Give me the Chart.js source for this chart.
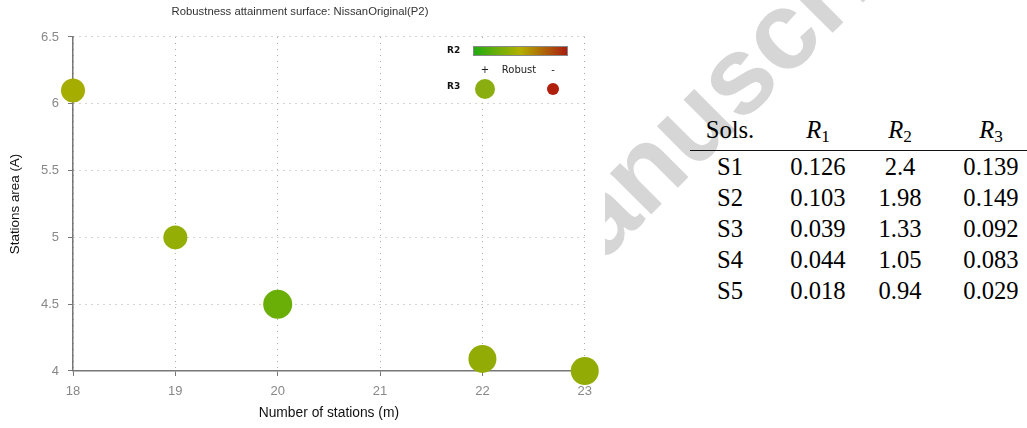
<!DOCTYPE html>
<html>
<head>
<meta charset="utf-8">
<script src="https://cdn.jsdelivr.net/npm/chart.js@4.4.1/dist/chart.umd.min.js"></script>
<style>
  html, body { margin: 0; padding: 0; background: #fff; overflow: hidden; }
  body { width: 1027px; height: 428px; position: relative; }
  #mark {
    position: absolute; left: 472px; top: 262px;
    transform-origin: 0 0; transform: rotate(-45deg);
    font: bold 110px "Liberation Sans", Arial, sans-serif; line-height: 1;
    color: #d6d6d6; white-space: nowrap; z-index: 0;
  }
  #plot { position: absolute; left: 0; top: 0; width: 605px; height: 428px; background: #fff; z-index: 1; }
  #plot canvas { position: absolute; left: 0; top: 0; }
  #tblWrap { position: absolute; left: 690px; top: 114px; width: 337px; overflow: hidden; z-index: 2; }
  table { border-collapse: collapse; font: 24.6px "Liberation Serif", serif; color: #000; table-layout: fixed; width: 358px; }
  td, th { padding: 0; text-align: center; font-weight: normal; white-space: nowrap; }
  thead th { line-height: 32px; padding-bottom: 4px; border-bottom: 1.2px solid #111; }
  tbody td { line-height: 31px; }
  sub { font-size: 0.7em; font-style: normal; vertical-align: -0.25em; line-height: 0; }
</style>
</head>
<body>
<div id="mark">Manuscript</div>
<div id="plot"><canvas id="chart" width="600" height="428"></canvas></div>
<div id="tblWrap">
  <table>
    <colgroup><col style="width:80px"><col style="width:96px"><col style="width:68px"><col style="width:114px"></colgroup>
    <thead><tr id="head"></tr></thead>
    <tbody id="rows"></tbody>
  </table>
</div>
<script>
// scatter data: number of stations vs stations area
const stations = [18, 19, 20, 22, 23];
const areas = [6.1, 5.0, 4.5, 4.09, 4.0];
const xTicks = [18, 19, 20, 21, 22, 23];
const yTicks = [4, 4.5, 5, 5.5, 6, 6.5];

// marker look (colour = R2, size = R3)
const pointColors = ["#a5ae00", "#94ae06", "#6aae08", "#93ac05", "#93ac05"];
const pointRadii = [12, 12, 14.5, 14, 14];

// table on the right
const tableHead = ["Sols.", "R1", "R2", "R3"];
const sols = ["S1", "S2", "S3", "S4", "S5"];
const r1 = ["0.126", "0.103", "0.039", "0.044", "0.018"];
const r2 = ["2.4", "1.98", "1.33", "1.05", "0.94"];
const r3 = ["0.139", "0.149", "0.092", "0.083", "0.029"];

function renderTable() {
  document.getElementById("head").innerHTML = tableHead
    .map((h) => (h.startsWith("R") ? `<th><i>R</i><sub>${h.slice(1)}</sub></th>` : `<th>${h}</th>`))
    .join("");
  document.getElementById("rows").innerHTML = sols
    .map((s, i) => `<tr><td>${s}</td><td>${r1[i]}</td><td>${r2[i]}</td><td>${r3[i]}</td></tr>`)
    .join("");
}

const robustLegend = {
  id: "robustLegend",
  beforeDatasetsDraw(chart) {
    const ctx = chart.ctx;
    ctx.save();
    ctx.fillStyle = "#fff";
    ctx.fillRect(444, 40, 136, 61);

    ctx.fillStyle = "#111";
    ctx.font = "bold 9px 'DejaVu Sans'";
    ctx.textBaseline = "middle";
    ctx.textAlign = "left";
    ctx.fillText("R2", 447, 51);
    ctx.fillText("R3", 447, 87);

    const grad = ctx.createLinearGradient(473, 0, 567, 0);
    grad.addColorStop(0, "#1fab12");
    grad.addColorStop(0.5, "#b2b000");
    grad.addColorStop(1, "#aa1c10");
    ctx.fillStyle = grad;
    ctx.fillRect(473, 46, 94, 9);
    ctx.strokeStyle = "#888";
    ctx.lineWidth = 1;
    ctx.strokeRect(473.5, 46.5, 94, 9);

    ctx.fillStyle = "#222";
    ctx.font = "10px 'DejaVu Sans'";
    ctx.textAlign = "center";
    ctx.fillText("+", 485, 70);
    ctx.fillText("Robust", 519, 70);
    ctx.fillText("-", 553, 70);

    ctx.fillStyle = "#8aae10";
    ctx.beginPath();
    ctx.arc(485, 89, 10, 0, Math.PI * 2);
    ctx.fill();
    ctx.fillStyle = "#b01e0c";
    ctx.beginPath();
    ctx.arc(553, 89, 6, 0, Math.PI * 2);
    ctx.fill();
    ctx.restore();
  },
};

function initChart() {
  const ctx = document.getElementById("chart");
  new Chart(ctx, {
    type: "scatter",
    data: {
      datasets: [
        {
          data: stations.map((x, i) => ({ x, y: areas[i] })),
          backgroundColor: pointColors,
          borderColor: pointColors,
          borderWidth: 0,
          pointRadius: pointRadii,
          pointHoverRadius: pointRadii,
          clip: false,
        },
      ],
    },
    options: {
      responsive: false,
      animation: false,
      events: [],
      layout: { padding: 0 },
      plugins: {
        legend: { display: false },
        tooltip: { enabled: false },
        title: {
          display: true,
          text: "Robustness attainment surface: NissanOriginal(P2)",
          color: "#333",
          font: { family: "'Liberation Sans'", size: 11.3, weight: "normal" },
          padding: { top: 5, bottom: 18.4 },
        },
      },
      scales: {
        x: {
          type: "linear",
          min: xTicks[0],
          max: xTicks[xTicks.length - 1],
          afterBuildTicks: (axis) => { axis.ticks = xTicks.map((v) => ({ value: v })); },
          afterFit: (axis) => { axis.height = 57; },
          ticks: { color: "#888", padding: 8, font: { family: "'Liberation Sans'", size: 13 } },
          grid: { color: "#aaa", lineWidth: 1, tickLength: 5, tickColor: "#777", tickBorderDash: [] },
          border: { color: "#777", width: 1.5, dash: [1, 5] },
          title: {
            display: true,
            text: "Number of stations (m)",
            color: "#111",
            font: { family: "'Liberation Sans'", size: 13.8 },
            padding: { top: 0, bottom: 6.7 },
          },
        },
        y: {
          type: "linear",
          min: yTicks[0],
          max: yTicks[yTicks.length - 1],
          afterBuildTicks: (axis) => { axis.ticks = yTicks.map((v) => ({ value: v })); },
          afterFit: (axis) => { axis.width = 73; },
          ticks: {
            color: "#888",
            padding: 9,
            font: { family: "'Liberation Sans'", size: 13 },
            callback: (value) => String(value),
          },
          grid: { color: "#aaa", lineWidth: 1, tickLength: 5, tickColor: "#777", tickBorderDash: [] },
          border: { color: "#777", width: 1.5, dash: [1, 5] },
          title: {
            display: true,
            text: "Stations area (A)",
            color: "#111",
            font: { family: "'Liberation Sans'", size: 13.4 },
            padding: { top: 7, bottom: 0 },
          },
        },
        spacer: {
          type: "linear",
          position: "right",
          display: true,
          afterFit: (axis) => { axis.width = 15; },
          ticks: { display: false },
          grid: { display: false },
          border: { display: false },
        },
      },
    },
    plugins: [robustLegend],
  });
}

renderTable();
initChart();
</script>
</body>
</html>
